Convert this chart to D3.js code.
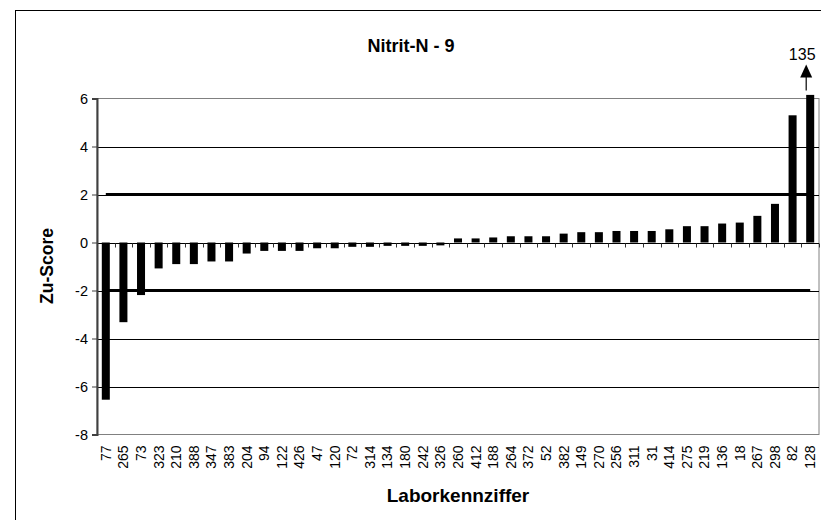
<!DOCTYPE html>
<html><head><meta charset="utf-8">
<script src="https://cdn.jsdelivr.net/npm/d3@7"></script>
<style>body{margin:0;background:#fff}svg{display:block}text{font-family:"Liberation Sans",Arial,sans-serif}</style>
</head><body>
<svg id="c" width="821" height="520"></svg>
<script>
const labs = ["77","265","73","323","210","388","347","383","204","94","122","426","47","120","72","314","134","180","242","326","260","412","188","264","372","52","382","149","270","256","311","31","414","275","219","136","18","267","298","82","128"];
const zscores = [-6.55,-3.32,-2.19,-1.08,-0.9,-0.9,-0.79,-0.79,-0.46,-0.35,-0.35,-0.35,-0.24,-0.24,-0.18,-0.18,-0.14,-0.14,-0.14,-0.12,0.17,0.17,0.21,0.26,0.26,0.26,0.37,0.43,0.43,0.48,0.48,0.48,0.55,0.68,0.68,0.79,0.83,1.11,1.61,5.3,135];
const yTicks = [-8,-6,-4,-2,0,2,4,6];
const limits = [-2, 2];
const displayCap = 6.15;
const title = "Nitrit-N - 9";
const xTitle = "Laborkennziffer";
const yTitle = "Zu-Score";

const svg = d3.select("#c");
const L = 97, R = 819, T = 98.5, B = 434.5;
const x = d3.scaleBand().domain(labs).range([L, R]).paddingInner(0.545).paddingOuter(0.2725);
const y = d3.scaleLinear().domain([-8, 6]).range([B, T]);
const step = x.step();
const cx = d => x(d) + x.bandwidth() / 2;

// outer frame
svg.append("rect").attr("x", 15.5).attr("y", 10.5).attr("width", 820).attr("height", 520)
  .attr("fill", "none").attr("stroke", "#000").attr("stroke-width", 1);

// plot border
svg.append("rect").attr("x", L).attr("y", T).attr("width", R - L).attr("height", B - T)
  .attr("fill", "none").attr("stroke", "#808080").attr("stroke-width", 1);

// gridlines
svg.append("g").selectAll("line").data(yTicks.filter(v => v !== 6 && v !== -8 && v !== 0)).join("line")
  .attr("x1", L).attr("x2", R).attr("y1", d => Math.round(y(d)) + 0.5).attr("y2", d => Math.round(y(d)) + 0.5)
  .attr("stroke", "#000").attr("stroke-width", 1);

// bars
svg.append("g").selectAll("rect").data(labs.map((l, i) => ({l, v: Math.min(zscores[i], displayCap)}))).join("rect")
  .attr("x", d => x(d.l)).attr("width", x.bandwidth())
  .attr("y", d => y(Math.max(0, d.v))).attr("height", d => Math.abs(y(d.v) - y(0)))
  .attr("fill", "#000");

// limit lines
svg.append("g").selectAll("line").data(limits).join("line")
  .attr("x1", cx(labs[0])).attr("x2", cx(labs[labs.length - 1]))
  .attr("y1", d => y(d)).attr("y2", d => y(d))
  .attr("stroke", "#000").attr("stroke-width", 3);

// x axis at zero
const y0 = Math.round(y(0)) + 0.5;
svg.append("line").attr("x1", L).attr("x2", R).attr("y1", y0).attr("y2", y0).attr("stroke", "#000");
svg.append("g").selectAll("line").data(d3.range(labs.length + 1)).join("line")
  .attr("x1", i => Math.round(L + i * step) + 0.5).attr("x2", i => Math.round(L + i * step) + 0.5)
  .attr("y1", y0).attr("y2", y0 + 4).attr("stroke", "#333");

// y axis
const yAxis = svg.append("g").attr("transform", `translate(${L},0)`)
  .call(d3.axisLeft(y).tickValues(yTicks).tickSize(5).tickPadding(4).tickFormat(d => String(d)));
yAxis.select(".domain").attr("stroke", "#404040").attr("stroke-width", 2);
yAxis.selectAll(".tick line").attr("stroke", "#404040");
yAxis.selectAll(".tick text").attr("font-size", 14.5).attr("fill", "#000")
  .style("font-family", '"Liberation Sans",Arial,sans-serif');

// x labels
svg.append("g").selectAll("text").data(labs).join("text")
  .attr("transform", d => `translate(${cx(d)},${B + 11}) rotate(-90)`)
  .attr("text-anchor", "end").attr("dy", "0.35em").attr("font-size", 14).text(d => d);

// overflow arrow for capped bar
const over = labs.filter((l, i) => zscores[i] > displayCap);
over.forEach(l => {
  const i = labs.indexOf(l);
  const ax = cx(l) - 4;
  svg.append("line").attr("x1", ax).attr("x2", ax).attr("y1", T - 8).attr("y2", T - 22).attr("stroke", "#000").attr("stroke-width", 1.2);
  svg.append("path").attr("d", `M${ax - 6},${T - 21}L${ax + 6},${T - 21}L${ax},${T - 34}Z`).attr("fill", "#000");
  svg.append("text").attr("x", ax - 4).attr("y", T - 39).attr("text-anchor", "middle").attr("font-size", 16).text(zscores[i]);
});

// titles
svg.append("text").attr("x", 411).attr("y", 52).attr("text-anchor", "middle").attr("font-size", 18).attr("font-weight", "bold").text(title);
svg.append("text").attr("x", 458).attr("y", 502).attr("text-anchor", "middle").attr("font-size", 19).attr("font-weight", "bold").text(xTitle);
svg.append("text").attr("transform", "translate(53,266) rotate(-90)").attr("text-anchor", "middle").attr("font-size", 17.5).attr("font-weight", "bold").text(yTitle);
</script>
</body></html>
